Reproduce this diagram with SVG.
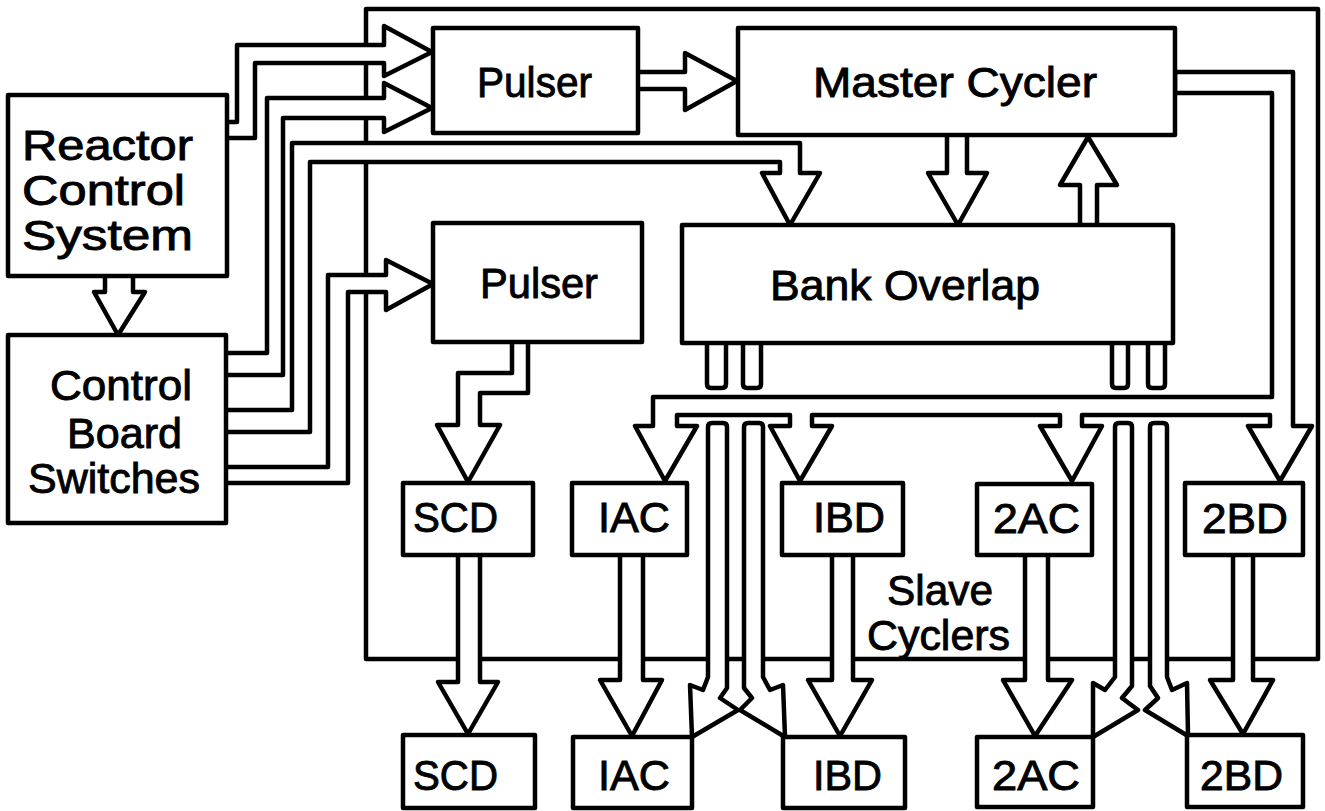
<svg xmlns="http://www.w3.org/2000/svg" width="1325" height="811" viewBox="0 0 1325 811">
  <style>
    .frame { fill: none; stroke: #000; stroke-width: 4.5; stroke-linejoin: round; }
    .box { fill: #fff; stroke: #000; stroke-width: 4.5; stroke-linejoin: round; }
    .pipe { fill: #fff; stroke: #000; stroke-width: 4.5; stroke-linejoin: round; stroke-linecap: round; }
    .lbl { font-family: "Liberation Sans", Arial, Helvetica, sans-serif; font-size: 42px; fill: #000; stroke: #000; stroke-width: 0.9; }
  </style>
  <rect width="1325" height="811" fill="#fff"/>

  <!-- outer enclosure line -->
  <rect class="frame" x="366" y="9" width="952" height="650"/>

  <g id="connectors">
    <!-- control inputs to the pulsers and bank overlap -->
    <path class="pipe" d="M227,122 H237 V45 H384 V26 L432,52 L384,76 V63 H255 V138 H227"/>
    <path class="pipe" d="M226,353 H267 V98 H384 V83 L432,108 L384,132 V118 H283 V375 H226"/>
    <path class="pipe" d="M226,410 H292 V143 H800 V173 H820 L790,225 L762,173 H780 V162 H310 V432 H226"/>
    <path class="pipe" d="M226,467 H328 V275 H386 V260 L433,284 L386,310 V292 H348 V483 H226"/>
    <!-- reactor control system to control board switches -->
    <path class="pipe" d="M105,276 V292 H94 L118,335 L145,292 H133 V276"/>
    <!-- pulser to master cycler -->
    <path class="pipe" d="M638,72 H685 V53 L737,81 L685,110 V89 H638"/>
    <!-- master cycler <-> bank overlap -->
    <path class="pipe" d="M947,135 V173 H928 L958,225 L987,173 H967 V135"/>
    <path class="pipe" d="M1080,225 V185 H1060 L1088,137 L1117,185 H1097 V225"/>
    <!-- lower pulser to SCD -->
    <path class="pipe" d="M512,342 V373 H458 V425 H437 L468,482 L500,425 H480 V393 H528 V342"/>
    <!-- master cycler distribution bus to the slave cyclers -->
    <path class="pipe" d="M1175,72 H1293 V426 H1312 L1280,481 L1248,426 H1270 V415 H1082 V426 H1102 L1072,481 L1040,426 H1060 V415 H812 V426 H832 L800,481 L770,426 H790 V415 H677 V426 H697 L665,481 L635,426 H653 V397 H1272 V93 H1175 Z"/>
    <!-- bank overlap output stubs -->
    <path class="pipe" d="M707,343 V384 Q707,388 711,388 H722 Q726,388 726,384 V343"/>
    <path class="pipe" d="M743,343 V384 Q743,388 747,388 H757 Q761,388 761,384 V343"/>
    <path class="pipe" d="M1112,343 V384 Q1112,388 1116,388 H1124 Q1128,388 1128,384 V343"/>
    <path class="pipe" d="M1148,343 V384 Q1148,388 1152,388 H1161 Q1165,388 1165,384 V343"/>
    <!-- bank overlap lines down to the lower slave cyclers -->
    <path class="pipe" d="M708,427 Q708,423 712,423 H723 Q727,423 727,427 V688 L720,698 L738,710 L692,737 L690,685 L703,690 L708,677 Z"/>
    <path class="pipe" d="M744,427 Q744,423 748,423 H759 Q763,423 763,427 V677 L770,690 L783,685 L785,737 L740,710 L752,698 L744,688 Z"/>
    <path class="pipe" d="M1115,427 Q1115,423 1119,423 H1128 Q1132,423 1132,427 V686 L1122,698 L1138,710 L1093,737 L1093,683 L1105,690 L1115,677 Z"/>
    <path class="pipe" d="M1150,427 Q1150,423 1154,423 H1163 Q1167,423 1167,427 V677 L1172,690 L1187,683 L1188,736 L1145,710 L1158,698 L1150,686 Z"/>
    <!-- slave cycler outputs -->
    <path class="pipe" d="M458,555 V682 H438 L468,734 L498,682 H480 V555"/>
    <path class="pipe" d="M620,555 V680 H600 L632,736 L662,680 H643 V555"/>
    <path class="pipe" d="M832,555 V680 H808 L840,736 L872,680 H853 V555"/>
    <path class="pipe" d="M1025,555 V680 H1003 L1035,736 L1072,680 H1048 V555"/>
    <path class="pipe" d="M1233,555 V680 H1210 L1243,734 L1273,680 H1253 V555"/>
  </g>

  <g id="reactor-control-system">
    <rect class="box" x="8" y="95" width="219" height="181"/>
    <text class="lbl"><tspan x="22" y="160" textLength="171" lengthAdjust="spacingAndGlyphs">Reactor</tspan><tspan x="22" y="205" textLength="163" lengthAdjust="spacingAndGlyphs">Control</tspan><tspan x="22" y="250" textLength="171" lengthAdjust="spacingAndGlyphs">System</tspan></text>
  </g>

  <g id="control-board-switches">
    <rect class="box" x="8" y="335" width="218" height="188"/>
    <text class="lbl"><tspan x="50" y="400" textLength="142" lengthAdjust="spacingAndGlyphs">Control</tspan><tspan x="67" y="448" textLength="115" lengthAdjust="spacingAndGlyphs">Board</tspan><tspan x="28" y="493" textLength="172" lengthAdjust="spacingAndGlyphs">Switches</tspan></text>
  </g>

  <g id="pulser-upper">
    <rect class="box" x="433" y="28" width="205" height="105"/>
    <text class="lbl" x="477" y="97" textLength="115" lengthAdjust="spacingAndGlyphs">Pulser</text>
  </g>

  <g id="master-cycler">
    <rect class="box" x="738" y="28" width="437" height="107"/>
    <text class="lbl" x="813" y="97" textLength="284" lengthAdjust="spacingAndGlyphs">Master Cycler</text>
  </g>

  <g id="pulser-lower">
    <rect class="box" x="433" y="223" width="209" height="119"/>
    <text class="lbl" x="480" y="298" textLength="118" lengthAdjust="spacingAndGlyphs">Pulser</text>
  </g>

  <g id="bank-overlap">
    <rect class="box" x="682" y="225" width="491" height="118"/>
    <text class="lbl" x="770" y="300" textLength="270" lengthAdjust="spacingAndGlyphs">Bank Overlap</text>
  </g>

  <g id="slave-scd">
    <rect class="box" x="403" y="483" width="130" height="72"/>
    <text class="lbl" x="413" y="532" textLength="85" lengthAdjust="spacingAndGlyphs">SCD</text>
  </g>
  <g id="slave-iac">
    <rect class="box" x="572" y="483" width="115" height="72"/>
    <text class="lbl" x="598" y="532" textLength="72" lengthAdjust="spacingAndGlyphs">IAC</text>
  </g>
  <g id="slave-ibd">
    <rect class="box" x="782" y="483" width="121" height="72"/>
    <text class="lbl" x="813" y="532" textLength="72" lengthAdjust="spacingAndGlyphs">IBD</text>
  </g>
  <g id="slave-2ac">
    <rect class="box" x="977" y="484" width="115" height="71"/>
    <text class="lbl" x="993" y="533" textLength="87" lengthAdjust="spacingAndGlyphs">2AC</text>
  </g>
  <g id="slave-2bd">
    <rect class="box" x="1185" y="483" width="118" height="72"/>
    <text class="lbl" x="1202" y="533" textLength="86" lengthAdjust="spacingAndGlyphs">2BD</text>
  </g>

  <g id="output-scd">
    <rect class="box" x="403" y="735" width="132" height="73"/>
    <text class="lbl" x="413" y="790" textLength="85" lengthAdjust="spacingAndGlyphs">SCD</text>
  </g>
  <g id="output-iac">
    <rect class="box" x="573" y="737" width="119" height="71"/>
    <text class="lbl" x="598" y="790" textLength="72" lengthAdjust="spacingAndGlyphs">IAC</text>
  </g>
  <g id="output-ibd">
    <rect class="box" x="783" y="737" width="122" height="71"/>
    <text class="lbl" x="813" y="790" textLength="69" lengthAdjust="spacingAndGlyphs">IBD</text>
  </g>
  <g id="output-2ac">
    <rect class="box" x="977" y="737" width="116" height="70"/>
    <text class="lbl" x="992" y="790" textLength="88" lengthAdjust="spacingAndGlyphs">2AC</text>
  </g>
  <g id="output-2bd">
    <rect class="box" x="1187" y="735" width="116" height="72"/>
    <text class="lbl" x="1200" y="790" textLength="83" lengthAdjust="spacingAndGlyphs">2BD</text>
  </g>

  <g id="slave-cyclers-label">
    <text class="lbl"><tspan x="887" y="605" textLength="106" lengthAdjust="spacingAndGlyphs">Slave</tspan><tspan x="867" y="650" textLength="143" lengthAdjust="spacingAndGlyphs">Cyclers</tspan></text>
  </g>
</svg>
